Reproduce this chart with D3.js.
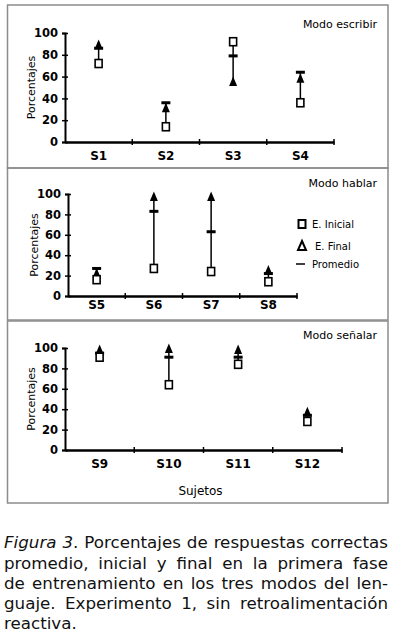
<!DOCTYPE html>
<html>
<head>
<meta charset="utf-8">
<script src="https://cdn.jsdelivr.net/npm/d3@7"></script>
<style>
body { margin: 0; background: #fff; }
</style>
</head>
<body>
<div id="chart"></div>
<script>
// data
const modes = ["Modo escribir", "Modo hablar", "Modo señalar"];
const subjects = [["S1", "S2", "S3", "S4"], ["S5", "S6", "S7", "S8"], ["S9", "S10", "S11", "S12"]];
const inicial = [[72, 14, 92, 36], [16, 27, 24, 14], [91, 64, 84, 28]];
const finalE = [[89, 31, 55, 58], [22, 97, 97, 25], [98, 99, 98, 37]];
const promedio = [[86, 36, 79, 64], [27, 83, 63, 22], [95, 91, 91, 34]];
const yTicks = [0, 20, 40, 60, 80, 100];
const legendLabels = ["E. Inicial", "E. Final", "Promedio"];
const yTitle = "Porcentajes";
const xTitle = "Sujetos";
const captionLines = [
    [["Figura 3", true], [". Porcentajes de respuestas correctas", false]],
    [["promedio, inicial y final en la primera fase", false]],
    [["de entrenamiento en los tres modos del len-", false]],
    [["guaje. Experimento 1, sin retroalimentación", false]],
    [["reactiva.", false]]
];

const W = 393, H = 640;
const font = "'DejaVu Sans', Verdana, sans-serif";
const svg = d3.select("#chart").append("svg")
    .attr("width", W)
    .attr("height", H);
svg.append("rect").attr("width", W).attr("height", H).attr("fill", "#fff");

//panel placement
const layout = [
    {top: 5, bottom: 168, x: [65, 334], y: [142, 33], titleY: 28, labDy: 17},
    {top: 168, bottom: 320, x: [68, 297], y: [296, 194], titleY: 187, labDy: 12},
    {top: 321, bottom: 503, x: [65, 342], y: [450, 348], titleY: 339, labDy: 17}
];

layout.forEach(function(L, p) {
    let g = svg.append("g");

    g.append("rect")
        .attr("x", 7.5).attr("y", L.top)
        .attr("width", 380.5).attr("height", L.bottom - L.top)
        .attr("fill", "none")
        .attr("stroke", "#8c8c8c")
        .attr("stroke-width", 1.5);

    let x = d3.scaleBand().domain(subjects[p]).range(L.x).padding(0);
    let y = d3.scaleLinear().domain([0, 100]).range(L.y);

    //y axis
    let ya = g.append("g")
        .attr("transform", `translate(${L.x[0]},0)`)
        .call(d3.axisLeft(y).tickValues(yTicks).tickSize(3).tickPadding(4));
    ya.select(".domain").attr("stroke", "#000").attr("stroke-width", 2);
    ya.selectAll(".tick line").attr("x1", -3).attr("x2", 3).attr("stroke-width", 1.5);
    ya.selectAll(".tick text")
        .attr("font-family", font)
        .attr("font-size", 11.5)
        .attr("font-weight", "bold")
        .attr("fill", "#000");

    //x axis, ticks on the band edges
    let xa = g.append("g")
        .attr("transform", `translate(0,${L.y[0]})`)
        .call(d3.axisBottom(x).tickSize(0).tickPadding(L.labDy - 8));
    xa.select(".domain").attr("stroke", "#000").attr("stroke-width", 2.5);
    xa.selectAll(".tick text")
        .attr("font-family", font)
        .attr("font-size", 12)
        .attr("font-weight", "bold")
        .attr("fill", "#000");
    xa.selectAll(".edge")
        .data(subjects[p])
        .enter().append("line")
        .attr("x1", d => x(d) + x.bandwidth())
        .attr("x2", d => x(d) + x.bandwidth())
        .attr("y1", -3).attr("y2", 3)
        .attr("stroke", "#000")
        .attr("stroke-width", 1.5);

    g.append("text")
        .attr("transform", `translate(${L.x[0] - 34},${(L.y[0] + L.y[1]) / 2}) rotate(-90)`)
        .attr("text-anchor", "middle")
        .attr("dy", "0.35em")
        .attr("font-family", font)
        .attr("font-size", 11)
        .text(yTitle);

    g.append("text")
        .attr("x", 377)
        .attr("y", L.titleY)
        .attr("text-anchor", "end")
        .attr("font-family", font)
        .attr("font-size", 11)
        .text(modes[p]);

    //marks
    let rows = subjects[p].map((s, i) => ({s: s, a: inicial[p][i], b: finalE[p][i], m: promedio[p][i]}));
    let marks = g.selectAll(".subj").data(rows).enter().append("g")
        .attr("transform", d => `translate(${x(d.s) + x.bandwidth() / 2},0)`);

    marks.append("line")
        .attr("y1", d => y(d3.min([d.a, d.b, d.m])))
        .attr("y2", d => y(d3.max([d.a, d.b, d.m])))
        .attr("stroke", "#000")
        .attr("stroke-width", 1.5);

    marks.append("rect")
        .attr("x", -4.5).attr("width", 9)
        .attr("y", d => y(d.m) - 1.5).attr("height", 3)
        .attr("fill", "#000");

    marks.append("path")
        .attr("d", "M0,-5.5L4,4L-4,4Z")
        .attr("transform", d => `translate(0,${y(d.b)})`)
        .attr("fill", "#000");

    marks.append("rect")
        .attr("x", -3.5).attr("width", 7)
        .attr("y", d => y(d.a) - 4).attr("height", 8)
        .attr("fill", "#fff")
        .attr("stroke", "#000")
        .attr("stroke-width", 1.6);

    if (p === 1) {
        let lg = g.append("g").attr("transform", "translate(302,224)");
        lg.append("rect")
            .attr("x", -3.5).attr("y", -4).attr("width", 7).attr("height", 8)
            .attr("fill", "#fff").attr("stroke", "#000").attr("stroke-width", 2);
        lg.append("path")
            .attr("d", "M0,-5L4,4L-4,4Z")
            .attr("transform", "translate(0,22)")
            .attr("fill", "#fff").attr("stroke", "#000").attr("stroke-width", 2);
        lg.append("line")
            .attr("x1", -6).attr("x2", 3).attr("y1", 40).attr("y2", 40)
            .attr("stroke", "#000").attr("stroke-width", 1.5);
        lg.selectAll(".lt").data(legendLabels).enter().append("text")
            .attr("x", (d, i) => [10, 13, 10][i])
            .attr("y", (d, i) => [0, 22, 40][i])
            .attr("dy", "0.35em")
            .attr("font-family", font)
            .attr("font-size", 10)
            .text(d => d);
    }

    if (p === 2) {
        g.append("text")
            .attr("x", (L.x[0] + L.x[1]) / 2 - 3)
            .attr("y", 495)
            .attr("text-anchor", "middle")
            .attr("font-family", font)
            .attr("font-size", 12)
            .text(xTitle);
    }
});

// caption, justified like the printed text
const capFont = "'DejaVu Sans', sans-serif";
const capX0 = 4, capX1 = 388;
const capY = [548, 569, 589, 609, 629];

function splitWords(parts) {
    let words = [];
    parts.forEach(function(pt) {
        pt[0].split(/( )/).forEach(function(t, k) {
            if (t === "") return;
            if (t === " ") { words.push(null); return; }
            if (k === 0 && words.length && words[words.length - 1] !== null) {
                words[words.length - 1].push([t, pt[1]]);
            } else {
                words.push([[t, pt[1]]]);
            }
        });
    });
    return words.filter(w => w !== null);
}

function measure(segs, size) {
    let t = svg.append("text")
        .attr("font-family", capFont)
        .attr("font-size", size);
    segs.forEach(function(pt) {
        t.append("tspan").attr("font-style", pt[1] ? "italic" : "normal").text(pt[0]);
    });
    let w = t.node().getComputedTextLength();
    t.remove();
    return w;
}

//fit the font so the widest justified line sets naturally
const capSize = Math.min(17, 16 * (capX1 - capX0 - 3) / measure(captionLines[0], 16));

//one text element, one tspan run per word
const caption = svg.append("text")
    .attr("font-family", capFont)
    .attr("font-size", capSize)
    .attr("fill", "#111");

captionLines.forEach(function(parts, li) {
    let words = splitWords(parts);
    let widths = words.map(w => measure(w, capSize));
    let total = d3.sum(widths);
    let gap = (li < captionLines.length - 1 && words.length > 1)
        ? (capX1 - capX0 - total) / (words.length - 1)
        : capSize * 0.3;
    let cx = capX0;
    words.forEach(function(w, i) {
        w.forEach(function(seg, k) {
            let ts = caption.append("tspan")
                .attr("font-style", seg[1] ? "italic" : "normal")
                .text(seg[0]);
            if (k === 0) ts.attr("x", cx).attr("y", capY[li]);
        });
        cx += widths[i] + gap;
    });
});
</script>
</body>
</html>
